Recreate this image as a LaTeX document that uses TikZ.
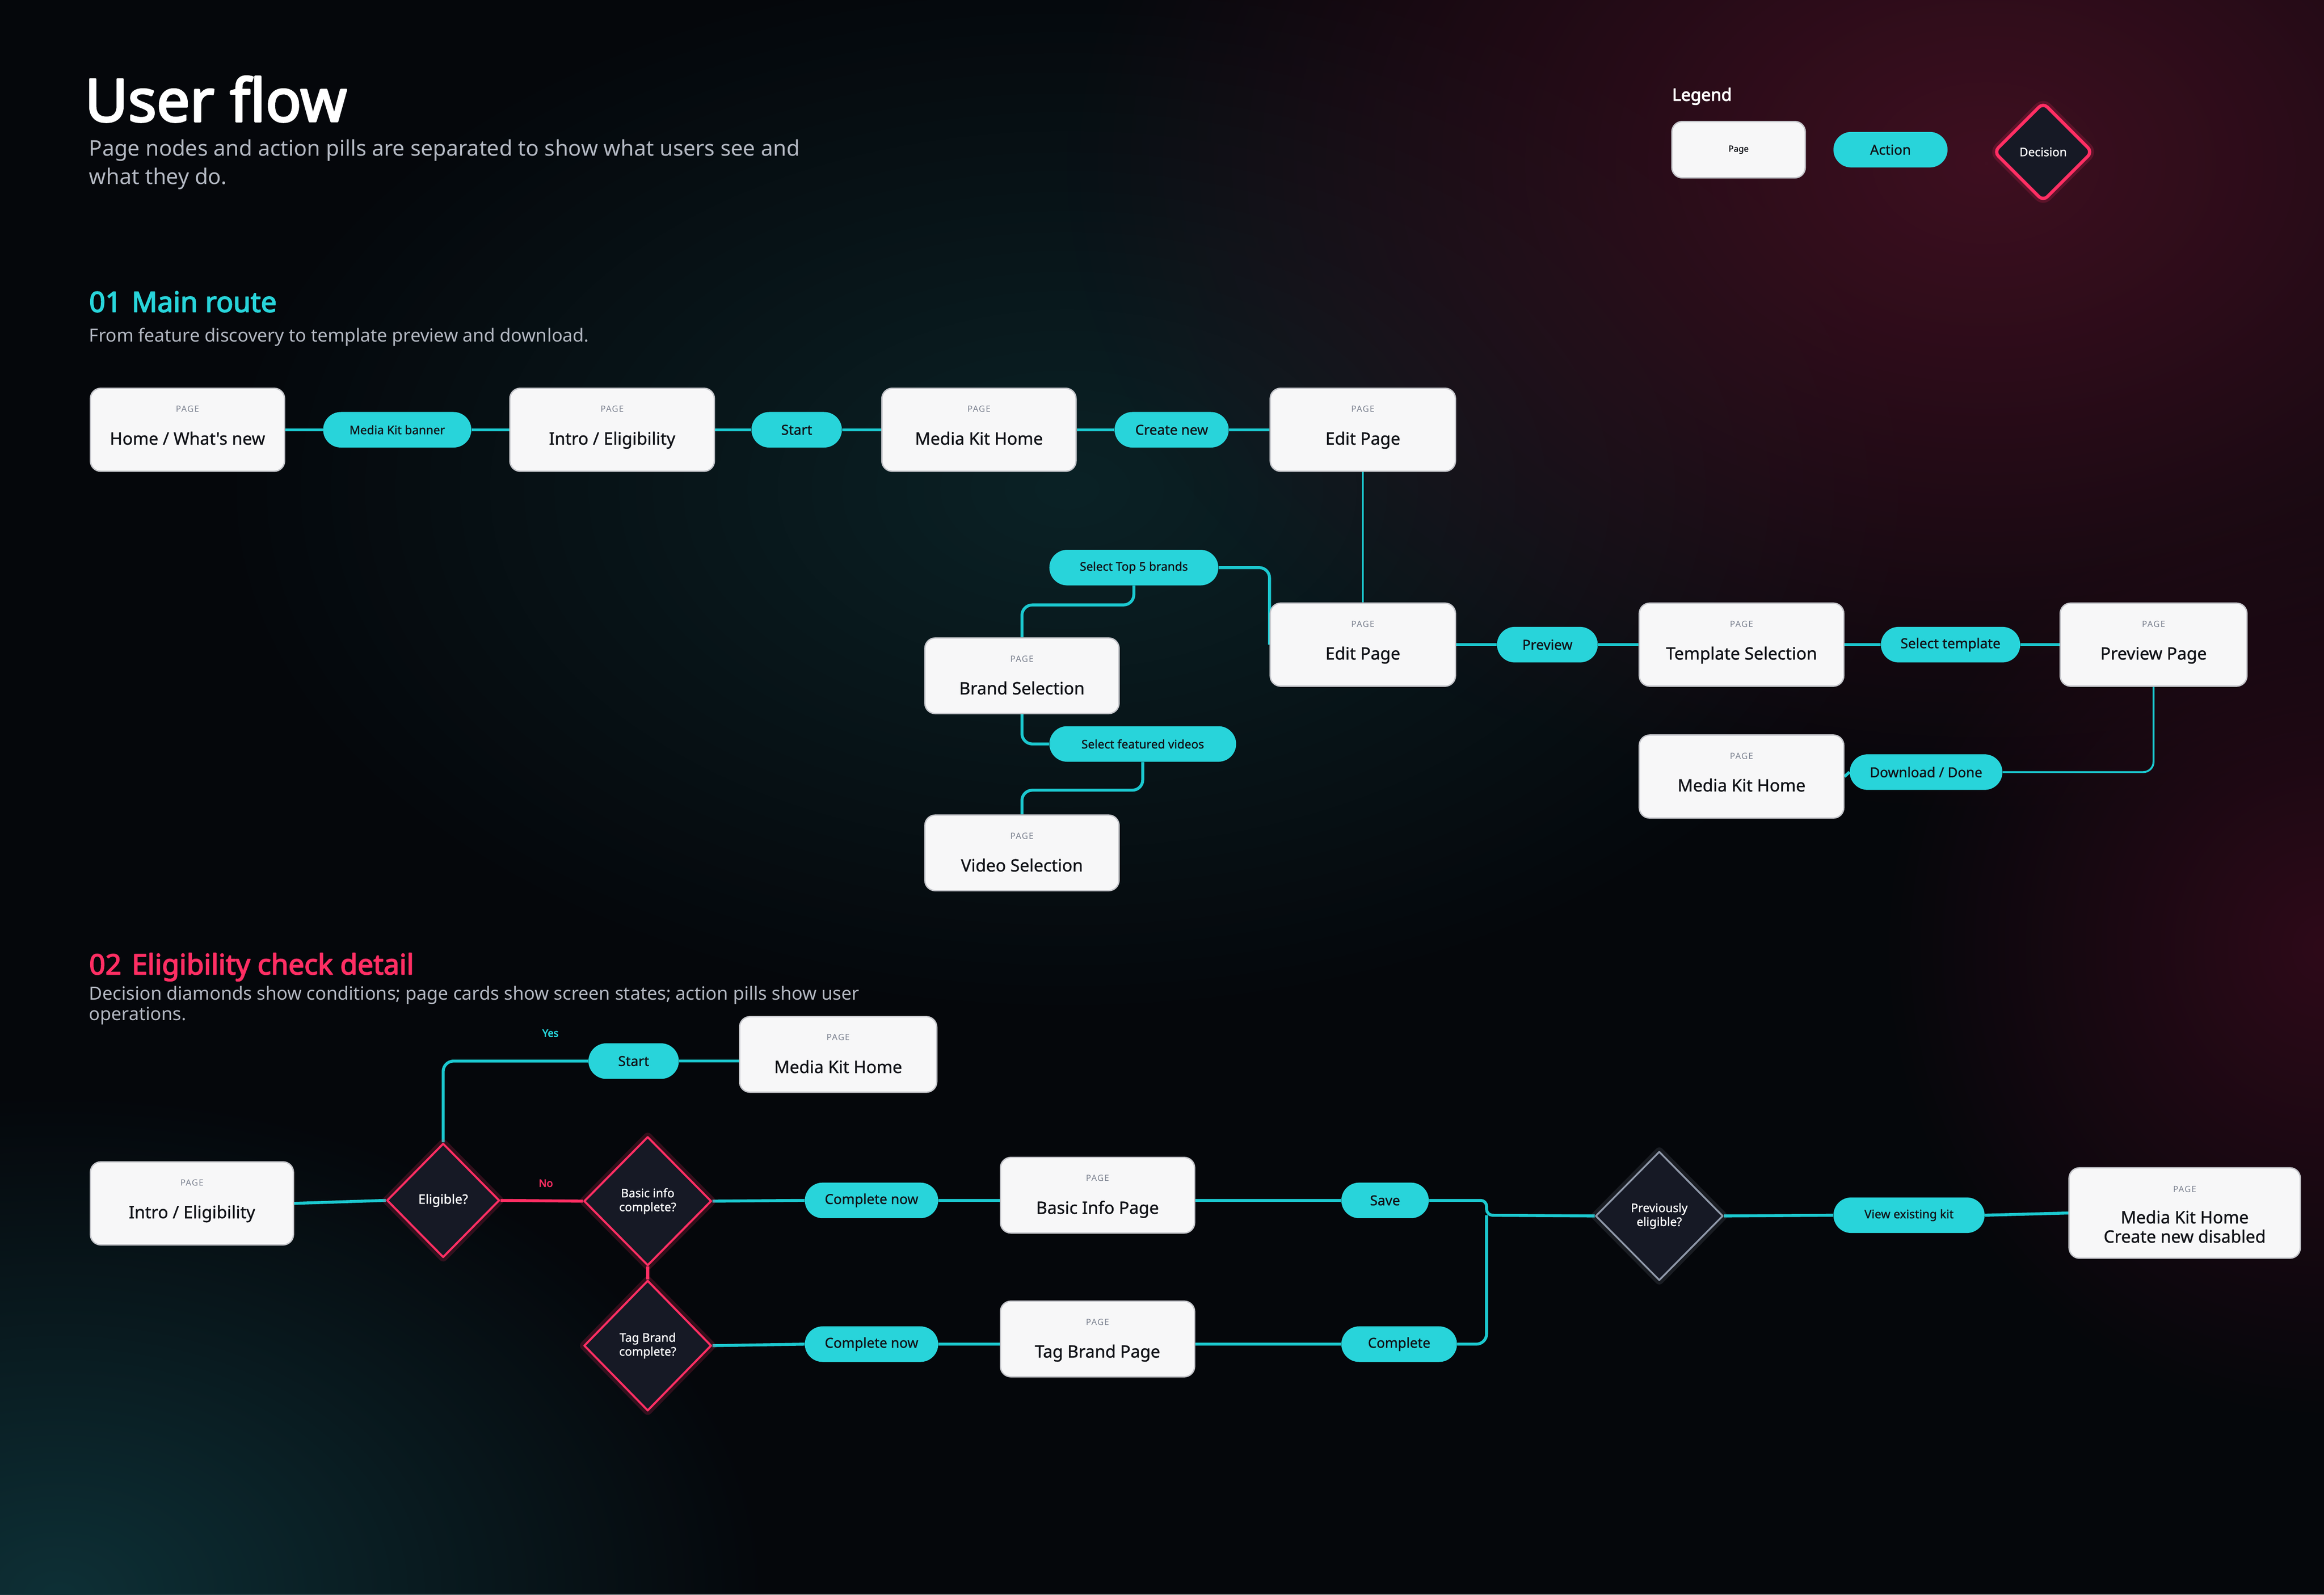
\documentclass[tikz,border=0pt]{standalone}
\usepackage{fontspec}
\setmainfont{Noto Sans}
\newfontfamily\medfont[FakeBold=1]{Noto Sans}
\newfontfamily\heavyfont[FakeBold=3.2]{Noto Sans}
\newfontfamily\tagfont[LetterSpace=8]{Noto Sans}
\usetikzlibrary{shapes.geometric,fadings}
\definecolor{bg}{HTML}{05070B}
\definecolor{cyanA}{HTML}{28D4DA}
\definecolor{cyanL}{HTML}{1BC8CF}
\definecolor{pinkA}{HTML}{FF2E63}
\definecolor{cardF}{HTML}{F7F7F8}
\definecolor{cardD}{HTML}{C6C7CC}
\definecolor{tagG}{HTML}{7D8391}
\definecolor{subG}{HTML}{B3B8C2}
\definecolor{ink}{HTML}{111318}
\definecolor{dmF}{HTML}{161925}
\definecolor{dmG}{HTML}{8F98A9}
\definecolor{glowT}{HTML}{0B2226}
\definecolor{glowTb}{HTML}{0E3036}
\definecolor{glowR}{HTML}{3E0F20}
\definecolor{glowRb}{HTML}{2E0A19}
\tikzfading[name=glowfade, inner color=transparent!0, outer color=transparent!100]
\pgfdeclarelayer{back}
\pgfsetlayers{back,main}
\begin{document}
\begin{tikzpicture}[x=1pt, y=-1pt, line join=round, line cap=round]
	\tikzset{
		card/.style={draw=cardD, line width=.9pt, fill=cardF, rounded corners=7pt, inner sep=0pt},
		tag/.style={font=\tagfont\fontsize{5.8}{7}\selectfont, text=tagG, inner sep=0pt},
		ctitle/.style={font=\medfont\fontsize{11.5}{13}\selectfont, text=ink, inner sep=0pt, anchor=base, align=center},
		pill/.style={fill=cyanA, rounded corners=12pt, minimum height=24pt, inner sep=0pt, text=ink},
		dbox/.style={diamond, fill=dmF, line width=1.4pt, inner sep=0pt, text=white, align=center, font=\medfont\fontsize{8}{9.4}\selectfont},
		decide/.style={dbox, draw=pinkA, preaction={draw=pinkA, draw opacity=.18, line width=6pt}},
		recall/.style={dbox, draw=dmG, preaction={draw=dmG, draw opacity=.15, line width=6pt}},
		flow/.style={draw=cyanL, line width=2pt, rounded corners=7pt},
		flow thin/.style={flow, line width=1.3pt},
		heading/.style={anchor=base west, inner sep=0pt, font=\heavyfont\fontsize{19}{21}\selectfont},
		note/.style={anchor=north west, inner sep=0pt, align=left, text=subG},
		glow/.style={path fading=glowfade}
	}
	\useasboundingbox (0,0) rectangle (1568,1076);
	\begin{pgfonlayer}{back}
		\fill[bg] (0,0) rectangle (1568,1076);
		\fill[glowT, glow] (720,330) ellipse (580 and 360);
		\fill[glowTb, glow] (40,1076) ellipse (480 and 340);
		\fill[glowR, glow] (1340,110) ellipse (620 and 440);
		\fill[glowRb, glow] (1568,640) ellipse (300 and 320);
	\end{pgfonlayer}

	\node[anchor=base west, inner sep=0pt, text=white, font=\heavyfont\fontsize{40}{42}\selectfont] (title) at (57,82) {User flow};
	\node[note, font=\fontsize{14.6}{19}\selectfont] (lead) at (60,94) {Page nodes and action pills are separated to show what users see and\\what they do.};
	\node[anchor=base west, inner sep=0pt, text=white, font=\heavyfont\fontsize{11.5}{13}\selectfont] (legend) at (1128,68) {Legend};
	\node[card, minimum width=90, minimum height=38, font=\medfont\fontsize{5.8}{7}\selectfont, text=ink] (lg-page) at (1173,101) {Page};
	\node[pill, minimum width=77, font=\medfont\fontsize{9.3}{10}\selectfont] (lg-action) at (1275.5,101) {Action};
	\node[decide, rounded corners=4pt, line width=2.2pt, minimum width=67, minimum height=67, font=\medfont\fontsize{8}{9}\selectfont] (lg-decision) at (1378.5,102.5) {Decision};

	\node[heading, text=cyanA] (sec-one) at (60,210.5) {01\hspace{7pt}Main route};
	\node[note, font=\fontsize{12.2}{14}\selectfont] (sec-one-note) at (60,221) {From feature discovery to template preview and download.};
	\node[heading, text=pinkA] (sec-two) at (60,657.5) {02\hspace{7pt}Eligibility check detail};
	\node[note, font=\fontsize{12.3}{14}\selectfont] (sec-two-note) at (60,665) {Decision diamonds show conditions; page cards show screen states; action pills show user\\operations.};

	\foreach \n/\x/\y/\w/\h/\t in {home/126.5/290/131/56/{Home / What's new}, intro/413/290/138/56/{Intro / Eligibility}, mkh/660.5/290/131/56/{Media Kit Home}, edit/919.5/290/125/56/{Edit Page}, editb/919.5/435/125/56/{Edit Page}, templ/1175/435/138/56/{Template Selection}, prevpg/1453/435/126/56/{Preview Page}, mkhb/1175/524/138/56/{Media Kit Home}, brand/689.5/456/131/51/{Brand Selection}, video/689.5/575.5/131/51/{Video Selection}, introb/129.5/812/137/56/{Intro / Eligibility}, mkhc/565.5/711.5/133/51/{Media Kit Home}, basicpg/740.5/806.5/131/51/{Basic Info Page}, tagpg/740.5/903.5/131/51/{Tag Brand Page}}
	{
		\node[card, minimum width=\w, minimum height=\h] (\n) at (\x,\y) {};
		\node[tag] (\n-tag) at ([yshift=-14.5]\n.north) {PAGE};
		\node[ctitle] (\n-txt) at ([yshift=-38.5]\n.north) {\t};
	}
	\node[card, minimum width=156, minimum height=61] (final) at (1474,818.5) {};
	\node[tag] (final-tag) at ([yshift=-15]final.north) {PAGE};
	\node[ctitle, anchor=north] (final-txt) at ([yshift=-29]final.north) {Media Kit Home\\Create new disabled};

	\foreach \n/\x/\y/\w/\f/\t in {mkb/268/290/100/8/{Media Kit banner}, start/537.5/290/61/9.3/Start, create/790.5/290/77/9.3/{Create new}, topfive/765/383/114/8/{Select Top 5 brands}, featured/771/502/126/8/{Select featured videos}, preview/1044/435/68/9.3/Preview, seltempl/1316/435/94/9.3/{Select template}, download/1299.5/521/103/9.3/{Download / Done}, startb/427.5/716/61/9.3/Start, nowa/588/810/90/9.3/{Complete now}, save/934.5/810/59/9.3/Save, nowb/588/907/90/9.3/{Complete now}, complete/944/907/78/9.3/Complete, viewkit/1288/820/102/8/{View existing kit}}
	\node[pill, minimum width=\w, font=\medfont\fontsize{\f}{10}\selectfont] (\n) at (\x,\y) {\t};

	\node[decide, minimum width=76, minimum height=77, font=\medfont\fontsize{8.8}{10}\selectfont] (elig) at (299,810) {Eligible?};
	\node[decide, minimum width=86, minimum height=87] (basicq) at (437,810.5) {Basic info\\complete?};
	\node[decide, minimum width=86, minimum height=88] (tagq) at (437,908) {Tag Brand\\complete?};
	\node[recall, minimum width=86, minimum height=87, line width=1.2pt] (prevq) at (1119.5,820.5) {Previously\\eligible?};

	\begin{pgfonlayer}{back}
		\draw[flow] (home.east) -- (mkb.west) (mkb.east) -- (intro.west) (intro.east) -- (start.west) (start.east) -- (mkh.west) (mkh.east) -- (create.west) (create.east) -- (edit.west);
		\draw[flow thin] (edit.south) -- (editb.north);
		\draw[flow] (topfive.east) -| (editb.west);
		\draw[flow] (topfive.south) -- ++(0,13) -| (brand.north);
		\draw[flow] (brand.south) |- (featured.west);
		\draw[flow] (featured.south) -- ++(0,19) -| (video.north);
		\draw[flow] (editb.east) -- (preview.west) (preview.east) -- (templ.west) (templ.east) -- (seltempl.west) (seltempl.east) -- (prevpg.west);
		\draw[flow thin] (prevpg.south) |- (download.east);
		\draw[flow] (download.west) -- (mkhb.east);
		\draw[flow] (introb.east) -- (elig.west);
		\draw[flow] (elig.north) |- node[pos=.87, above=12pt, text=cyanA, font=\heavyfont\fontsize{7}{8}\selectfont] (yes) {Yes} (startb.west);
		\draw[flow] (startb.east) -- (startb.east -| mkhc.west);
		\draw[flow, draw=pinkA] (elig.east) -- node[pos=.55, above=5pt, text=pinkA, font=\heavyfont\fontsize{7}{8}\selectfont] (no) {No} (basicq.west);
		\draw[flow, draw=pinkA] (basicq.south) -- (tagq.north);
		\draw[flow] (basicq.east) -- (nowa.west) (nowa.east) -- (nowa.east -| basicpg.west) (basicpg.east |- save.west) -- (save.west);
		\draw[flow] (tagq.east) -- (nowb.west) (nowb.east) -- (nowb.east -| tagpg.west) (tagpg.east |- complete.west) -- (complete.west);
		\coordinate (join) at (1003,820);
		\draw[flow, rounded corners=4pt] (save.east) -| (join) -- (prevq.west);
		\draw[flow] (complete.east) -| (join);
		\draw[flow] (prevq.east) -- (viewkit.west) (viewkit.east) -- (final.west);
	\end{pgfonlayer}
\end{tikzpicture}
\end{document}
